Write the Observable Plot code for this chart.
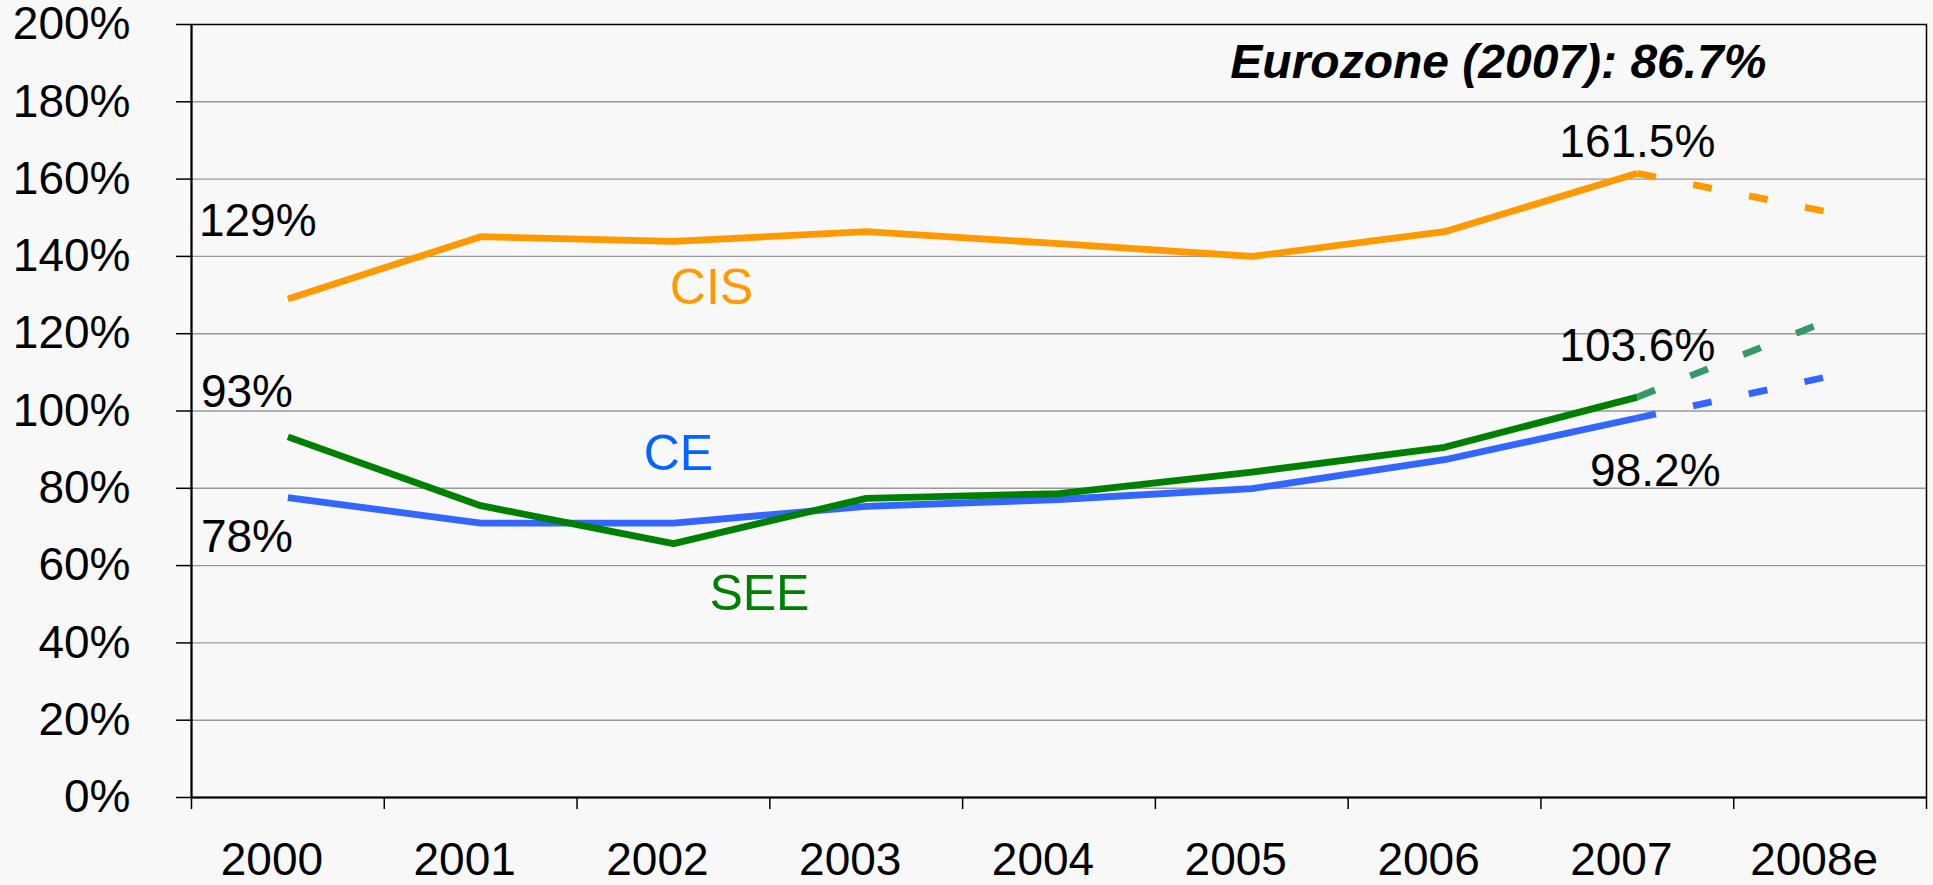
<!DOCTYPE html>
<html>
<head>
<meta charset="utf-8">
<script src="https://cdn.jsdelivr.net/npm/d3@7"></script>
<script src="https://cdn.jsdelivr.net/npm/@observablehq/plot@0.6"></script>
<style>
  html, body { margin: 0; padding: 0; background: #f8f8f8; }
  #chart svg { display: block; }
</style>
</head>
<body>
<div id="chart"></div>
<script>
// ---- data ----
const years = ["2000", "2001", "2002", "2003", "2004", "2005", "2006", "2007", "2008e"];
const ce  = [77.6, 71.0, 71.0, 75.3, 77.1, 79.9, 87.4, 98.2, 109.0];
const see = [93.3, 75.5, 65.7, 77.4, 78.6, 84.2, 90.6, 103.6, 123.6];
const cis = [129.0, 145.1, 143.9, 146.4, 143.3, 140.0, 146.4, 161.5, 151.4];
const seriesNames = ["CE", "SEE", "CIS"];
const startLabels = ["78%", "93%", "129%"];
const endLabels = ["98.2%", "103.6%", "161.5%"];
const note = "Eurozone (2007): 86.7%";
const yTicks = [0, 20, 40, 60, 80, 100, 120, 140, 160, 180, 200];

// ---- derived tables ----
const idx = years.map((_, i) => i);
const boundaries = d3.range(years.length + 1).map(i => i - 0.5);
const lastActual = years.length - 2; // 2007
const rows = vals => vals.map((v, i) => ({i, v}));
const solidPart = vals => rows(vals).slice(0, lastActual + 1);
const dashPart = vals => rows(vals).slice(lastActual);
const pt = (vals, i, label) => [{i, v: vals[i], label}];

const font = "'Liberation Sans', Arial, Helvetica, sans-serif";
const lw = 6.8;
const dash = "19,38";

const chart = Plot.plot({
  width: 1933,
  height: 885,
  marginLeft: 191,
  marginRight: 7,
  marginTop: 24,
  marginBottom: 88,
  style: {background: "#f8f8f8", fontFamily: font, fontSize: "46px", color: "black", overflow: "visible"},
  x: {type: "linear", domain: [-0.5, years.length - 0.5], label: null},
  y: {domain: [0, 200], label: null},
  marks: [
    Plot.gridY({ticks: yTicks.filter(t => t > 0 && t < 200), stroke: "#9a9a9a", strokeOpacity: 1, strokeWidth: 1.4}),
    Plot.axisY({ticks: yTicks, tickSize: 15, tickPadding: 46, tickFormat: d => d + "%", stroke: "black", strokeWidth: 1.5, fontSize: 46, label: null}),
    Plot.axisX({ticks: boundaries, tickSize: 12, tickFormat: () => "", stroke: "black", strokeWidth: 1.5, label: null}),
    Plot.axisX({ticks: idx, tickSize: 0, tickPadding: 45, dx: -16, tickFormat: i => years[i], fontSize: 46, label: null}),
    Plot.frame({stroke: "black", strokeWidth: 1.5}),
    Plot.ruleX([-0.5], {stroke: "black", strokeWidth: 2}),
    Plot.ruleY([0], {stroke: "black", strokeWidth: 2}),

    // CE (blue)
    Plot.line(solidPart(ce), {x: "i", y: "v", stroke: "#3366FF", strokeWidth: lw, strokeLinecap: "butt", strokeLinejoin: "miter"}),
    Plot.line(dashPart(ce), {x: "i", y: "v", stroke: "#3366FF", strokeWidth: lw, strokeLinecap: "butt", strokeDasharray: dash}),
    // SEE (green)
    Plot.line(solidPart(see), {x: "i", y: "v", stroke: "#008000", strokeWidth: lw, strokeLinecap: "butt", strokeLinejoin: "miter"}),
    Plot.line(dashPart(see), {x: "i", y: "v", stroke: "#339966", strokeWidth: lw, strokeLinecap: "butt", strokeDasharray: dash}),
    // CIS (orange)
    Plot.line(solidPart(cis), {x: "i", y: "v", stroke: "#FF9900", strokeWidth: lw, strokeLinecap: "butt", strokeLinejoin: "miter"}),
    Plot.line(dashPart(cis), {x: "i", y: "v", stroke: "#FF9900", strokeWidth: lw, strokeLinecap: "butt", strokeDasharray: dash}),

    // start value labels
    Plot.text(pt(cis, 0, startLabels[2]), {x: "i", y: "v", text: "label", textAnchor: "start", dx: -89, dy: -78, fontSize: 46, fill: "black"}),
    Plot.text(pt(see, 0, startLabels[1]), {x: "i", y: "v", text: "label", textAnchor: "start", dx: -87, dy: -45, fontSize: 46, fill: "black"}),
    Plot.text(pt(ce, 0, startLabels[0]), {x: "i", y: "v", text: "label", textAnchor: "start", dx: -87, dy: 40, fontSize: 46, fill: "black"}),
    // end value labels
    Plot.text(pt(cis, lastActual, endLabels[2]), {x: "i", y: "v", text: "label", dy: -31, fontSize: 46, fill: "black"}),
    Plot.text(pt(see, lastActual, endLabels[1]), {x: "i", y: "v", text: "label", dy: -51, fontSize: 46, fill: "black"}),
    Plot.text(pt(ce, lastActual, endLabels[0]), {x: "i", y: "v", text: "label", dx: 18, dy: 53, fontSize: 46, fill: "black"}),
    // series names
    Plot.text(pt(cis, 2, seriesNames[2]), {x: "i", y: "v", text: "label", dx: 38, dy: 47, fontSize: 50, fill: "#FF9900"}),
    Plot.text(pt(ce, 2, seriesNames[0]), {x: "i", y: "v", text: "label", dx: 5, dy: -69, fontSize: 50, fill: "#0066FF"}),
    Plot.text(pt(see, 2, seriesNames[1]), {x: "i", y: "v", text: "label", dx: 86, dy: 50, fontSize: 50, fill: "#008000"}),
    // note
    Plot.text([note], {text: d => d, frameAnchor: "top-right", textAnchor: "end", lineAnchor: "middle", dx: -160, dy: 38.5, fontSize: 48, fontWeight: "bold", fontStyle: "italic", fill: "black"})
  ]
});
document.getElementById("chart").appendChild(chart);
</script>
</body>
</html>
